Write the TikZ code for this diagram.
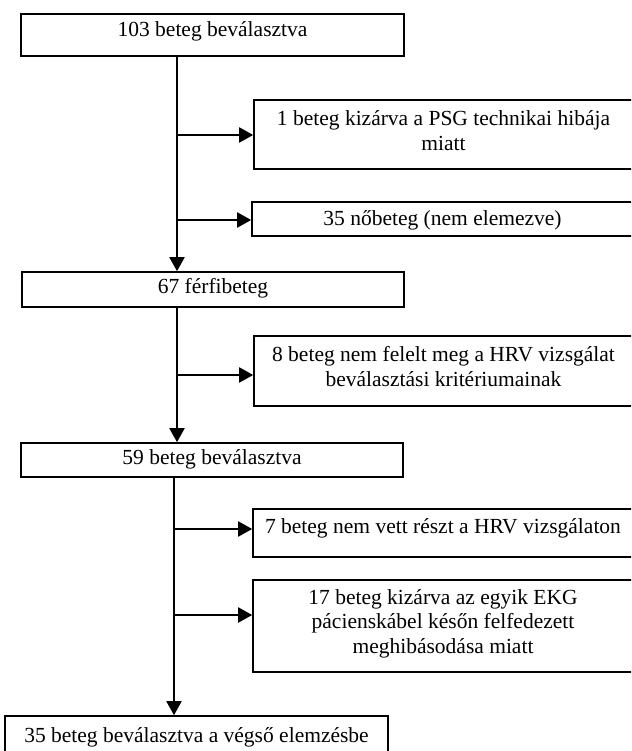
\documentclass[tikz,border=0pt]{standalone}
\usepackage{fontspec}
\setmainfont{Liberation Serif}
\usetikzlibrary{arrows.meta}
\begin{document}
\begin{tikzpicture}[x=1pt,y=-1pt,
  box/.style={draw, line width=1.6pt, inner sep=0pt, fill=white},
  txt/.style={align=center, inner sep=0pt, font=\fontsize{21.5}{24.5}\selectfont},
  arr/.style={line width=2pt, -{Triangle[length=14pt,width=15pt]}},
  ]
\useasboundingbox (0,0) rectangle (631,751);
\fill[white] (0,0) rectangle (631,751);
\clip (0,0) rectangle (631,751);

% main column boxes
\node[box, minimum width=383pt, minimum height=42pt] (b1) at (212.5,35) {};
\node[txt] (t1) at (212.5,31) {103 beteg beválasztva};

\node[box, minimum width=382pt, minimum height=35pt] (b67) at (213,289.5) {};
\node[txt] (t67) at (213,288) {67 férfibeteg};

\node[box, minimum width=382pt, minimum height=34pt] (b59) at (212,460) {};
\node[txt] (t59) at (212,459) {59 beteg beválasztva};

\node[box, minimum width=383pt, minimum height=50pt] (bf) at (196.5,741) {};
\node[txt] (tf) at (196.5,737) {35 beteg beválasztva a végső elemzésbe};

% side boxes
\node[box, minimum width=379pt, minimum height=69pt] (b2) at (443.5,134.5) {};
\node[txt] (t2) at (443.5,130.5) {1 beteg kizárva a PSG technikai hibája\\miatt};

\node[box, minimum width=381pt, minimum height=34pt] (b3) at (442.5,219) {};
\node[txt] (t3) at (442.5,220) {35 nőbeteg (nem elemezve)};

\node[box, minimum width=379pt, minimum height=70pt] (b8) at (443.5,371) {};
\node[txt] (t8) at (443.5,366.5) {8 beteg nem felelt meg a HRV vizsgálat\\beválasztási kritériumainak};

\node[box, minimum width=380pt, minimum height=48pt] (b7) at (443,533) {};
\node[txt] (t7) at (443,528) {7 beteg nem vett részt a HRV vizsgálaton};

\node[box, minimum width=380pt, minimum height=92pt] (b17) at (443,626) {};
\node[txt] (t17) at (443,623.5) {17 beteg kizárva az egyik EKG\\pácienskábel későn felfedezett\\meghibásodása miatt};

% trunk coordinates
\coordinate (k1) at (177,0);
\coordinate (k2) at (177,0);
\coordinate (k3) at (174,0);
\coordinate (a1) at (177,135);
\coordinate (a2) at (177,220);
\coordinate (a3) at (177,375);
\coordinate (a4) at (174,529);
\coordinate (a5) at (174,615);

% connectors
\draw[arr] (b1.south -| k1) -- (b67.north -| k1);
\draw[arr] (b67.south -| k2) -- (b59.north -| k2);
\draw[arr] (b59.south -| k3) -- (bf.north -| k3);

\draw[arr] (a1) -- (a1 -| b2.west);
\draw[arr] (a2) -- (a2 -| b3.west);
\draw[arr] (a3) -- (a3 -| b8.west);
\draw[arr] (a4) -- (a4 -| b7.west);
\draw[arr] (a5) -- (a5 -| b17.west);
\end{tikzpicture}
\end{document}
